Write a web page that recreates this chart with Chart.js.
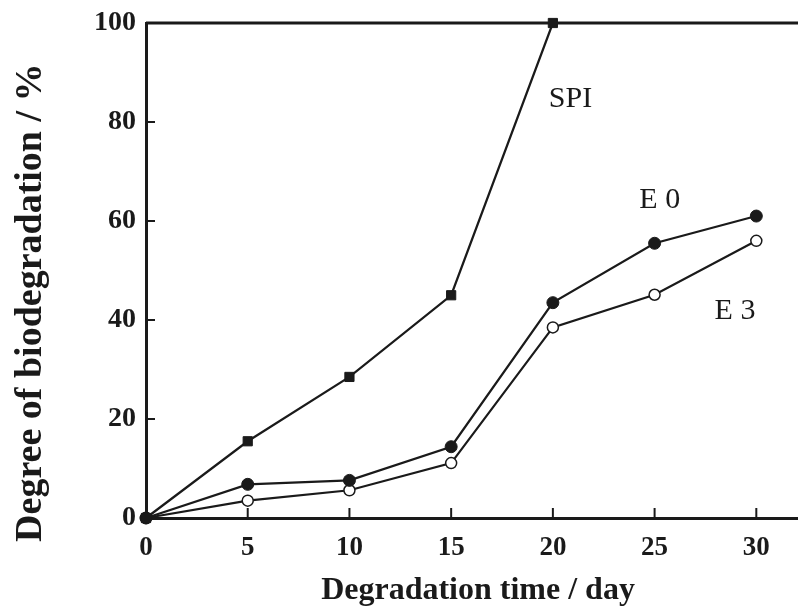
<!DOCTYPE html>
<html>
<head>
<meta charset="utf-8">
<script src="https://cdn.jsdelivr.net/npm/chart.js@4.4.1/dist/chart.umd.min.js"></script>
<style>
  html, body { margin: 0; padding: 0; background: #fff; overflow: hidden; }
  #wrap { width: 798px; height: 614px; position: relative; }
</style>
</head>
<body>
<div id="wrap"><canvas id="c"></canvas></div>
<script>
// Degradation time (days)
const days = [0, 5, 10, 15, 20, 25, 30];
// Degree of biodegradation (%) for each sample
const spi = [0, 15.5, 28.5, 45, 100];
const e0 = [0, 6.8, 7.6, 14.4, 43.5, 55.5, 61];
const e3 = [0, 3.5, 5.6, 11.1, 38.5, 45.1, 56];
// Axis tick values
const xTicks = [0, 5, 10, 15, 20, 25, 30];
const yTicks = [0, 20, 40, 60, 80, 100];

const seriesNames = ['SPI', 'E 0', 'E 3'];
const xTitle = 'Degradation time / day';
const yTitle = 'Degree of biodegradation / %';
// Where each series name is written, in data units
const nameAnchors = [
  { x: 19.8, y: 84.6 },
  { x: 24.25, y: 64.2 },
  { x: 27.95, y: 41.7 }
];

const serif = '"Liberation Serif", "Times New Roman", serif';
const ink = '#1a1a1a';

function pts(vals) {
  return vals.map((v, i) => ({ x: days[i], y: v }));
}

// Inward ticks, top frame line, axis titles and series names
const decor = {
  id: 'decor',
  afterDatasetsDraw(chart) {
    const { ctx, chartArea: a, scales } = chart;
    ctx.save();
    ctx.strokeStyle = ink;
    ctx.lineWidth = 3;
    ctx.beginPath();
    ctx.moveTo(a.left, a.top);
    ctx.lineTo(a.right + 1, a.top);
    ctx.stroke();
    ctx.lineWidth = 2;
    xTicks.forEach(v => {
      if (v === 0) return;
      const px = scales.x.getPixelForValue(v);
      ctx.beginPath();
      ctx.moveTo(px, a.bottom);
      ctx.lineTo(px, a.bottom - 10);
      ctx.stroke();
    });
    yTicks.forEach(v => {
      if (v === 0 || v === 100) return;
      const py = scales.y.getPixelForValue(v);
      ctx.beginPath();
      ctx.moveTo(a.left, py);
      ctx.lineTo(a.left + 9, py);
      ctx.stroke();
    });

    ctx.fillStyle = ink;
    ctx.font = '30px ' + serif;
    ctx.textAlign = 'left';
    ctx.textBaseline = 'middle';
    seriesNames.forEach((n, i) => {
      ctx.fillText(n, scales.x.getPixelForValue(nameAnchors[i].x), scales.y.getPixelForValue(nameAnchors[i].y));
    });

    // axis titles
    ctx.textAlign = 'center';
    ctx.font = 'bold 32px ' + serif;
    ctx.fillText(xTitle, a.left + (a.right - a.left) * 0.51, 591);
    ctx.save();
    ctx.translate(31, a.top + (a.bottom - a.top) * 0.565);
    ctx.rotate(-Math.PI / 2);
    ctx.font = 'bold 38px ' + serif;
    ctx.fillText(yTitle, 0, 0);
    ctx.restore();
    ctx.restore();
  }
};

new Chart(document.getElementById('c'), {
  type: 'line',
  data: {
    datasets: [
      {
        label: seriesNames[0], data: pts(spi),
        borderColor: ink, borderWidth: 2.2, backgroundColor: ink,
        pointStyle: 'rect', pointRadius: 6.5, pointBorderWidth: 1, pointBorderColor: ink
      },
      {
        label: seriesNames[1], data: pts(e0),
        borderColor: ink, borderWidth: 2.2, backgroundColor: ink,
        pointStyle: 'circle', pointRadius: 6, pointBorderWidth: 1, pointBorderColor: ink
      },
      {
        label: seriesNames[2], data: pts(e3),
        borderColor: ink, borderWidth: 2.2, backgroundColor: '#fff',
        pointStyle: 'circle', pointRadius: 5.5, pointBorderWidth: 1.5, pointBorderColor: ink
      }
    ]
  },
  options: {
    responsive: true,
    maintainAspectRatio: false,
    animation: false,
    clip: false,
    layout: { autoPadding: false, padding: { left: 8, right: 1, top: 23, bottom: 2 } },
    plugins: { legend: { display: false }, tooltip: { enabled: false } },
    scales: {
      x: {
        type: 'linear', min: 0, max: 32,
        afterBuildTicks: s => { s.ticks = xTicks.map(v => ({ value: v })); },
        afterFit: s => { s.height = 614 - 518 - 2; s.paddingLeft = 0; s.paddingRight = 0; },
        grid: { display: false, drawTicks: false },
        border: { display: true, color: ink, width: 3 },
        ticks: { color: ink, padding: 14, font: { family: serif, size: 27, weight: 'bold' }, maxRotation: 0 },
        title: { display: false }
      },
      y: {
        type: 'linear', min: 0, max: 100,
        afterBuildTicks: s => { s.ticks = yTicks.map(v => ({ value: v })); },
        afterFit: s => { s.width = 146 - 8; s.paddingTop = 0; s.paddingBottom = 0; },
        grid: { display: false, drawTicks: false },
        border: { display: true, color: ink, width: 3 },
        ticks: { color: ink, padding: 10, font: { family: serif, size: 28, weight: 'bold' } },
        title: { display: false }
      }
    }
  },
  plugins: [decor]
});
</script>
</body>
</html>
